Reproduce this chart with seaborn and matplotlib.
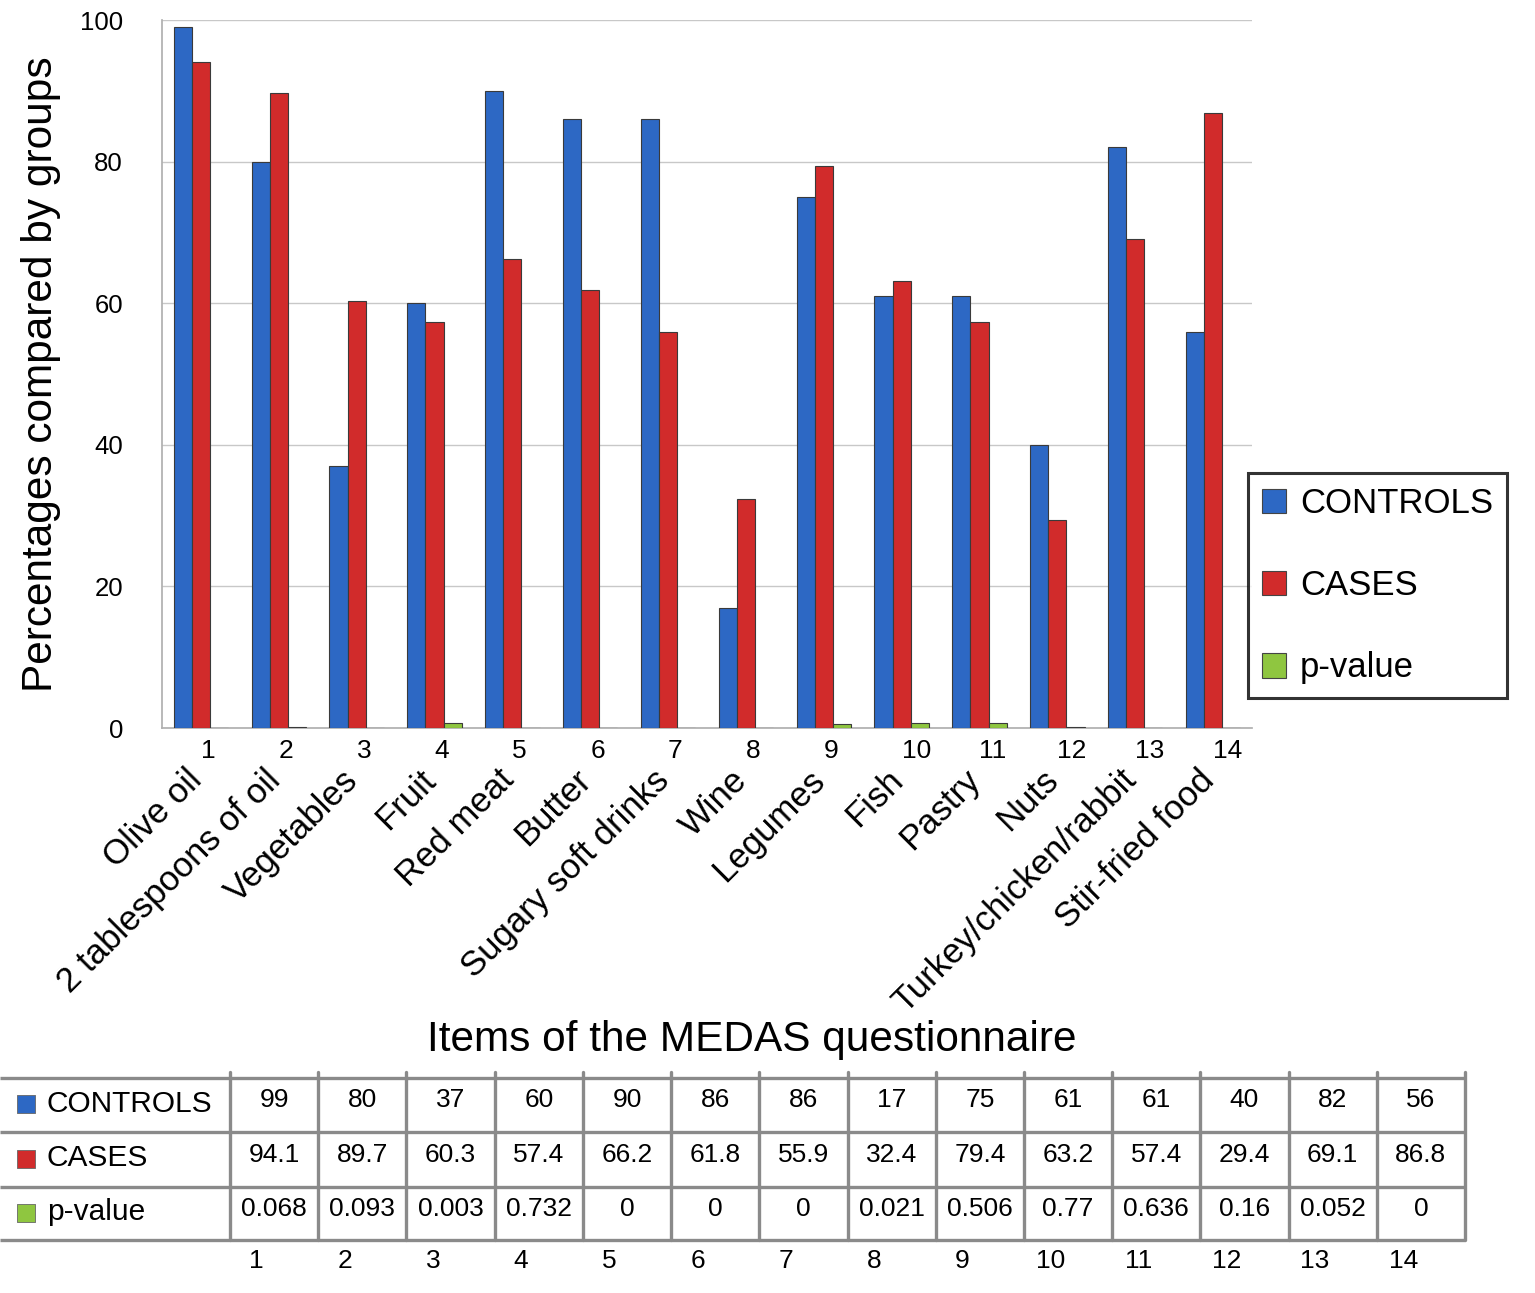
import numpy as np
import pandas as pd
import matplotlib
matplotlib.use("Agg")
import matplotlib.pyplot as plt
import seaborn as sns

items = ["1", "2", "3", "4", "5", "6", "7", "8", "9", "10", "11", "12", "13", "14"]
item_names = ["Olive oil", "2 tablespoons of oil", "Vegetables", "Fruit", "Red meat",
              "Butter", "Sugary soft drinks", "Wine", "Legumes", "Fish", "Pastry",
              "Nuts", "Turkey/chicken/rabbit", "Stir-fried food"]
controls = [99, 80, 37, 60, 90, 86, 86, 17, 75, 61, 61, 40, 82, 56]
cases = [94.1, 89.7, 60.3, 57.4, 66.2, 61.8, 55.9, 32.4, 79.4, 63.2, 57.4, 29.4, 69.1, 86.8]
pvalues = [0.068, 0.093, 0.003, 0.732, 0, 0, 0, 0.021, 0.506, 0.77, 0.636, 0.16, 0.052, 0]
pvalue_text = ["0.068", "0.093", "0.003", "0.732", "0", "0", "0", "0.021", "0.506",
               "0.77", "0.636", "0.16", "0.052", "0"]
series = ["CONTROLS", "CASES", "p-value"]
colors = ["#2d68c4", "#d12b2b", "#8fc640"]
yticks = [0, 20, 40, 60, 80, 100]

sns.set_theme(style="white")
plt.rcParams['font.family'] = ['Liberation Sans', 'DejaVu Sans']
plt.rcParams['text.color'] = 'black'
plt.rcParams['axes.labelcolor'] = 'black'
plt.rcParams['xtick.color'] = 'black'
plt.rcParams['ytick.color'] = 'black'

df = pd.DataFrame({
    "item": items * 3,
    "value": controls + cases + pvalues,
    "group": [series[0]] * 14 + [series[1]] * 14 + [series[2]] * 14,
})

fig = plt.figure(figsize=(15.35, 12.93), dpi=100)
ax = fig.add_axes([162 / 1535, 1 - 728 / 1293, (1252 - 162) / 1535, (728 - 20) / 1293])

sns.barplot(data=df, x="item", y="value", hue="group", hue_order=series,
            palette=colors, width=0.7, edgecolor="#3a3a3a", linewidth=0.8,
            saturation=1, ax=ax, zorder=3)

ax.set_ylim(0, 100)
ax.set_xlim(-0.5, 13.5)
ax.set_yticks(yticks)
ax.set_yticklabels([str(t) for t in yticks], fontsize=18.5)
ax.tick_params(axis="y", length=0, pad=28)
ax.yaxis.grid(True, color="#c8c8c8", linewidth=1.0, zorder=0)
ax.set_axisbelow(True)
for s in ["top", "right"]:
    ax.spines[s].set_visible(False)
ax.spines["left"].set_color("#b0b0b0")
ax.spines["bottom"].set_color("#b0b0b0")

ax.set_xticks(range(14))
ax.set_xticklabels(items, fontsize=19)
ax.tick_params(axis="x", length=0, pad=8)
for lab in ax.get_xticklabels():
    lab.set_horizontalalignment("left")
ax.set_xticks(np.arange(-0.5, 14, 1), minor=True)
ax.tick_params(axis="x", which="minor", length=12, color="#b0b0b0", width=1)

trans = matplotlib.transforms.blended_transform_factory(ax.transData, ax.transAxes)
for i, name in enumerate(item_names):
    ax.text(i - 0.2, -0.05, name, transform=trans, rotation=45,
            rotation_mode="anchor", ha="right", va="top", fontsize=25)

ax.set_xlabel("")
ax.set_ylabel("Percentages compared by groups", fontsize=30.5, labelpad=14)

handles, labels = ax.get_legend_handles_labels()
ax.get_legend().remove()
leg = fig.legend(handles, labels, loc="upper left",
                 bbox_to_anchor=(1248 / 1535, 1 - 473 / 1293),
                 fontsize=25, frameon=True, fancybox=False, labelspacing=1.42,
                 handlelength=0.7, handleheight=0.7, handletextpad=0.4,
                 borderpad=0.4, borderaxespad=0)
leg.get_frame().set_edgecolor("black")
leg.get_frame().set_linewidth(2.2)
for h in leg.legend_handles:
    h.set_edgecolor("#444444")

fig.text(752 / 1535, 1 - 1040 / 1293, "Items of the MEDAS questionnaire",
         ha="center", va="center", fontsize=30.5)

# Data table
tab = fig.add_axes([0, 0, 1, 1])
tab.set_xlim(0, 1535)
tab.set_ylim(1293, 0)
tab.axis("off")
tab.patch.set_alpha(0)
row_edges = [1078, 1132, 1187, 1240]
x0, x1 = 230, 1465
colw = (x1 - x0) / 14
for y in row_edges:
    tab.plot([0, x1], [y, y], color="#8a8a8a", lw=2.4, solid_capstyle="butt")
for j in range(15):
    xx = x0 + j * colw
    tab.plot([xx, xx], [1072, row_edges[-1]], color="#8a8a8a", lw=2.4)
row_texts = [[str(v) for v in controls], [str(v) for v in cases], pvalue_text]
for r in range(3):
    yc = (row_edges[r] + row_edges[r + 1]) / 2 - 1
    tab.scatter([26], [yc], marker="s", s=170, color=colors[r],
                edgecolor="#666666", linewidth=0.6)
    tab.text(47, yc, series[r], ha="left", va="center", fontsize=21.5)
    for j in range(14):
        tab.text(x0 + (j + 0.5) * colw, yc - 4, row_texts[r][j],
                 ha="center", va="center", fontsize=19)
for j in range(14):
    tab.text(x0 + (j + 0.3) * colw, 1261, items[j], ha="center", va="center",
             fontsize=19)

fig.savefig("out.png", dpi=100)
